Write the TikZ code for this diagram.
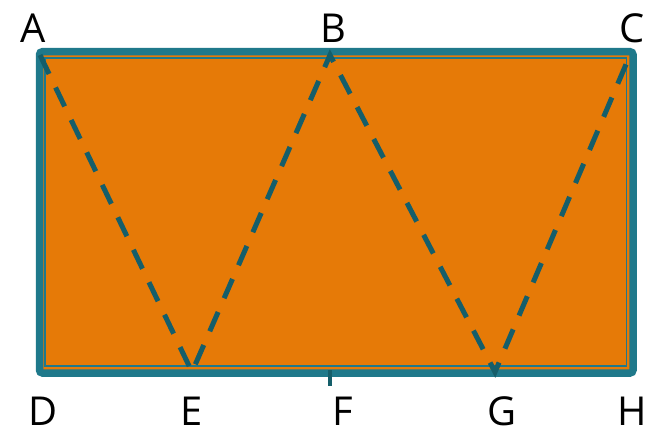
\documentclass[tikz,border=0pt]{standalone}
\usepackage{fontspec}
\setmainfont{Open Sans}
\definecolor{fillor}{HTML}{E67A07}
\definecolor{bordc}{HTML}{1F798B}
\definecolor{dashc}{HTML}{155E6A}
\begin{document}
\begin{tikzpicture}[x=1bp,y=-1bp,
  lbl/.style={font=\fontsize{40}{40}\selectfont, inner sep=0pt, text=black, anchor=base, text depth=0pt},
  zig/.style={draw=dashc, line width=5bp, dash pattern=on 21bp off 15bp},
  outerframe/.style={draw=bordc, line width=7.5bp, fill=fillor, rounded corners=3bp},
  innerframe/.style={draw=bordc, line width=1.5bp}]
\useasboundingbox (0,0) rectangle (660,431);
\path[outerframe] (39.5,51.7) rectangle (633,373);
\path[innerframe] (45,58) rectangle (626.3,366);
\coordinate (A) at (40,55);
\coordinate (B) at (330,55);
\coordinate (C) at (630,55);
\coordinate (E) at (192,372);
\coordinate (G) at (495,372);
\coordinate (Ftop) at (330,370);
\coordinate (Fbot) at (330,386);
\draw[zig] (A) -- (E) -- (B) -- (G) -- (C);
\draw[draw=dashc, line width=4bp] (Ftop) -- (Fbot);
\node[lbl] (lA) at (33,42) {A};
\node[lbl] (lB) at (333,42) {B};
\node[lbl] (lC) at (632,42) {C};
\node[lbl] (lD) at (43,425) {D};
\node[lbl] (lE) at (192,425) {E};
\node[lbl] (lF) at (343,425) {F};
\node[lbl] (lG) at (502,425) {G};
\node[lbl] (lH) at (632,425) {H};
\end{tikzpicture}
\end{document}
